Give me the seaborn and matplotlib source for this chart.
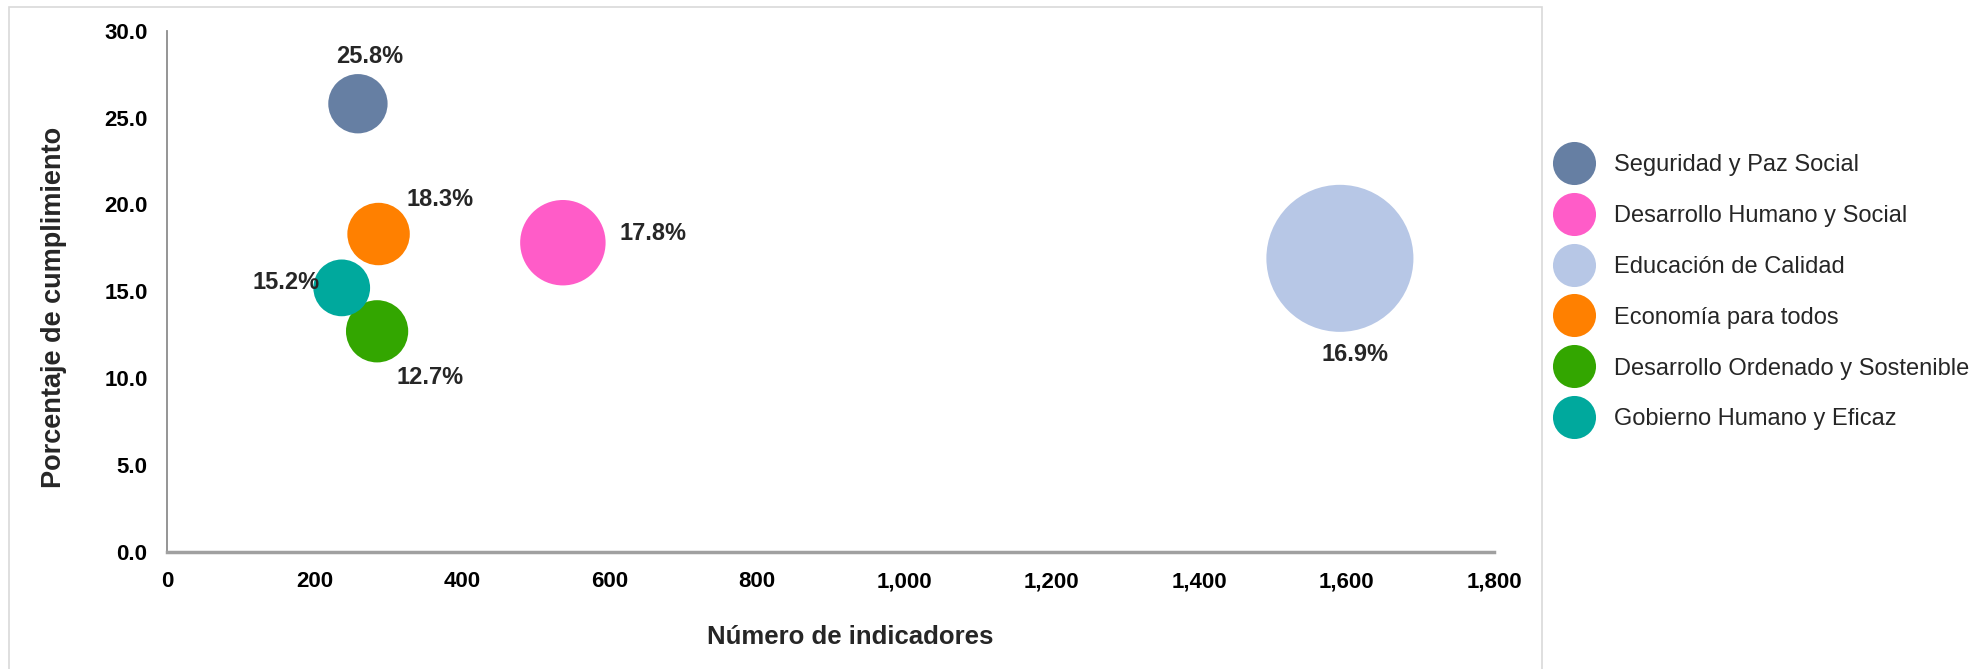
import numpy as np
import pandas as pd
import seaborn as sns
import matplotlib.pyplot as plt
from matplotlib.lines import Line2D
from matplotlib.patches import Rectangle

sns.set_style("white")
plt.rcParams['font.family'] = ['Liberation Sans', 'DejaVu Sans']

# datos
ejes = ['Seguridad y Paz Social', 'Desarrollo Humano y Social', 'Educación de Calidad',
        'Economía para todos', 'Desarrollo Ordenado y Sostenible', 'Gobierno Humano y Eficaz']
indicadores = [259, 537, 1591, 287, 285, 237]
cumplimiento = [25.8, 17.8, 16.9, 18.3, 12.7, 15.2]
colores = ['#667FA3', '#FF5CC8', '#B7C7E6', '#FF8000', '#33A600', '#00A99D']

# desplazamiento de etiquetas (pt)
offsets = [(8.6, 33.8), (64.8, 6.5), (10.8, -69.1), (44.6, 25.2), (38.2, -33.1), (-40.3, 3.6)]

df = pd.DataFrame({'Eje': ejes, 'Indicadores': indicadores, 'Cumplimiento': cumplimiento})

fig = plt.figure(figsize=(19.88, 6.69), dpi=100)
ax = fig.add_axes([0.084, 0.175, 0.6675, 0.779])

k = 7.045  # area de burbuja proporcional al número de indicadores
sns.scatterplot(data=df, x='Indicadores', y='Cumplimiento', hue='Eje',
                palette=dict(zip(ejes, colores)), size='Indicadores',
                sizes=(min(indicadores) * k, max(indicadores) * k),
                linewidth=0, alpha=1, legend=False, ax=ax, zorder=3)

for x, y, (dx, dy) in zip(indicadores, cumplimiento, offsets):
    ax.annotate(f'{y:.1f}%', (x, y), xytext=(dx, dy), textcoords='offset points',
                ha='center', va='center', fontsize=17, fontweight='bold')

ax.set_xlim(0, 1800)
ax.set_ylim(0, 30)
ax.set_xticks(np.arange(0, 1801, 200))
ax.set_yticks(np.arange(0, 30.1, 5))
ax.set_xticklabels([f'{v:,}' for v in range(0, 1801, 200)])
ax.set_yticklabels([f'{v:.1f}' for v in np.arange(0, 30.1, 5)])
ax.tick_params(axis='both', labelsize=16, colors='#7F7F7F', labelcolor='black',
               direction='out', length=6, width=1.2)
ax.tick_params(axis='x', pad=8)
ax.tick_params(axis='y', pad=8)
for lab in ax.get_xticklabels() + ax.get_yticklabels():
    lab.set_fontweight('bold')

ax.set_xlabel('Número de indicadores', fontsize=18.5, fontweight='bold')
ax.set_ylabel('Porcentaje de cumplimiento', fontsize=19.5, fontweight='bold')
ax.xaxis.set_label_coords(0.515, -0.141)
ax.yaxis.set_label_coords(-0.075, 0.47)

for s in ['top', 'right']:
    ax.spines[s].set_visible(False)
ax.spines['left'].set_color('#8C8C8C')
ax.spines['left'].set_linewidth(1.3)
ax.spines['bottom'].set_color('#A0A0A0')
ax.spines['bottom'].set_linewidth(2.5)

handles = [Line2D([], [], marker='o', linestyle='', markersize=31, markerfacecolor=c,
                  markeredgewidth=0) for c in colores]
fig.legend(handles, ejes, loc='center left', bbox_to_anchor=(0.774, 0.563),
           frameon=False, fontsize=17, handlelength=2, handletextpad=0.68,
           labelspacing=1.22, borderpad=0)

fig.add_artist(Rectangle((9 / 1988, -0.01), (1542 - 9) / 1988, 1 - 7 / 669 + 0.01,
                         transform=fig.transFigure, fill=False, edgecolor='#D9D9D9', lw=1.2))

fig.savefig('out.png', dpi=100)
